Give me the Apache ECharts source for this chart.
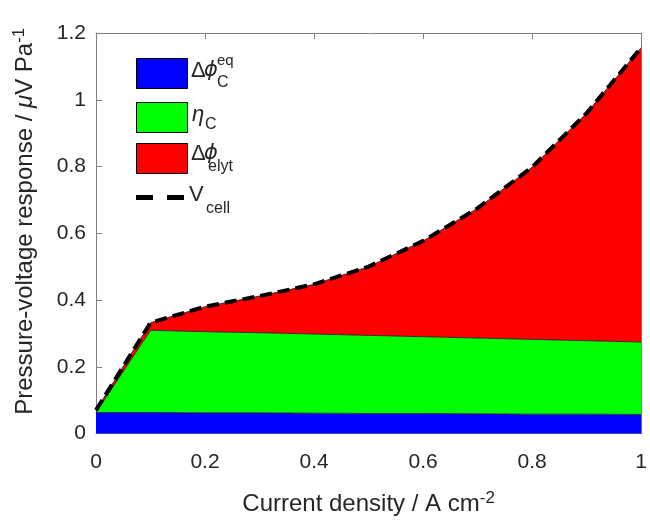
<!DOCTYPE html>
<html><head><meta charset="utf-8">
<script src="https://cdn.jsdelivr.net/npm/echarts@6/dist/echarts.min.js"></script>
<style>html,body{margin:0;padding:0;background:#fff;overflow:hidden;width:100%;height:100%}#c{width:100vw;height:100vh}</style>
</head><body><div id="c"></div>
<script>
// Current density (A cm^-2)
var xVals = [0, 0.1, 0.2, 0.3, 0.4, 0.5, 0.6, 0.7, 0.8, 0.9, 1.0];
// Δφ_C^eq band
var phiEq = [0.063, 0.063, 0.062, 0.062, 0.061, 0.060, 0.060, 0.059, 0.058, 0.058, 0.057];
// η_C band thickness
var etaC = [0.000, 0.246, 0.243, 0.240, 0.237, 0.234, 0.230, 0.227, 0.224, 0.220, 0.217];
// Δφ_elyt band thickness
var phiElyt = [0.007, 0.023, 0.075, 0.110, 0.149, 0.206, 0.287, 0.389, 0.516, 0.682, 0.882];
// V_cell total
var vCell = [0.070, 0.332, 0.380, 0.412, 0.447, 0.500, 0.577, 0.675, 0.798, 0.960, 1.156];
var xTickLabels = ['0', '', '0.2', '', '0.4', '', '0.6', '', '0.8', '', '1'];
var yTicks = [0, 0.2, 0.4, 0.6, 0.8, 1, 1.2];

var FONT = '"Liberation Sans", Arial, Helvetica, sans-serif';
var GFONT = '"DejaVu Sans", "Liberation Sans", sans-serif';
var TXT = '#262626';
var AX = '#808080';

var chart = echarts.init(document.getElementById('c'), null, {renderer:'canvas'});
function fmtY(v){ return String(Math.round(v*10)/10); }
var axisCommon = {
  axisLine:{show:true, onZero:false, lineStyle:{color:AX, width:1}},
  axisTick:{show:true, inside:true, length:6, lineStyle:{color:AX}},
  splitLine:{show:false}
};
var legendBase = {orient:'vertical', left:136, padding:0, itemWidth:51, itemHeight:30, formatter:function(){return '';},
  itemStyle:{borderColor:'#000', borderWidth:1}, textStyle:{fontSize:1}, selectedMode:false};

function legendText(x, y, parts){
  return parts.map(function(p){
    return {type:'text', left:x+(p.dx||0), top:y+(p.dy||0),
      style:{text:p.t, font:(p.it?'italic ':'')+p.s+'px '+(p.g?GFONT:FONT), fill:TXT}};
  });
}
var gfx = [].concat(
  legendText(191, 60, [{t:'Δ', s:22}, {t:'ϕ', s:21, it:true, g:true, dx:13}]),
  legendText(217, 53, [{t:'eq', s:15}]),
  legendText(217, 75, [{t:'C', s:16}]),
  legendText(192, 104, [{t:'η', s:22, it:true}]),
  legendText(205, 117, [{t:'C', s:16}]),
  legendText(191, 143, [{t:'Δ', s:22}, {t:'ϕ', s:21, it:true, g:true, dx:13}]),
  legendText(208, 159, [{t:'elyt', s:16}]),
  legendText(189, 184, [{t:'V', s:22}]),
  legendText(206, 201, [{t:'cell', s:16}])
);

chart.setOption({
  animation:false,
  backgroundColor:'#fff',
  grid:{left:96, right:4, top:33, bottom:83, containLabel:false},
  graphic: gfx,
  legend:[
    Object.assign({}, legendBase, {top:58, data:[{name:'eq', icon:'rect'}]}),
    Object.assign({}, legendBase, {top:102, data:[{name:'eta', icon:'rect'}]}),
    Object.assign({}, legendBase, {top:143, data:[{name:'elyt', icon:'rect'}]}),
    Object.assign({}, legendBase, {top:195, itemHeight:5, itemWidth:48,
      data:[{name:'vcell', icon:'path://M0,0h17v5h-17z M31,0h17v5h-17z'}],
      itemStyle:{color:'#000', borderWidth:0}})
  ],
  xAxis:[
    Object.assign({type:'category', data:xVals, boundaryGap:false, position:'bottom',
      name:'Current density / A cm{sup|-2}', nameLocation:'middle', nameGap:56,
      nameTextStyle:{fontSize:24, color:TXT, fontFamily:FONT, rich:{sup:{fontSize:17, verticalAlign:'top', padding:[0,0,12,0], color:TXT, fontFamily:FONT}}},
      axisLabel:{fontSize:21, color:TXT, fontFamily:FONT, margin:18, interval:0,
        formatter:function(v, i){ return xTickLabels[i]; }}}, axisCommon,
      {axisTick:{show:true, inside:true, length:6, interval:1, lineStyle:{color:AX}}}),
    Object.assign({type:'category', data:xVals, boundaryGap:false, position:'top', axisLabel:{show:false}}, axisCommon,
      {axisTick:{show:true, inside:true, length:6, interval:1, lineStyle:{color:AX}}})
  ],
  yAxis:[
    Object.assign({type:'value', min:yTicks[0], max:yTicks[yTicks.length-1], interval:0.2, position:'left',
      name:'Pressure-voltage response / {it|μ}V Pa{sup|-1}', nameLocation:'middle', nameGap:56,
      nameTextStyle:{fontSize:24, color:TXT, fontFamily:FONT, padding:[0,0,0,24], rich:{
        it:{fontSize:24, fontStyle:'italic', color:TXT, fontFamily:FONT},
        sup:{fontSize:17, verticalAlign:'top', padding:[0,0,12,0], color:TXT, fontFamily:FONT}}},
      axisLabel:{fontSize:21, color:TXT, fontFamily:FONT, margin:10, formatter:fmtY}}, axisCommon),
    Object.assign({type:'value', min:yTicks[0], max:yTicks[yTicks.length-1], interval:0.2, position:'right', axisLabel:{show:false}}, axisCommon)
  ],
  series:[
    {name:'eq', type:'line', stack:'s', data:phiEq, symbol:'none',
      lineStyle:{color:'#1a1a1a', width:0.8}, itemStyle:{color:'#0000ff'}, areaStyle:{color:'#0000ff', opacity:1}},
    {name:'eta', type:'line', stack:'s', data:etaC, symbol:'none',
      lineStyle:{color:'#1a1a1a', width:0.8}, itemStyle:{color:'#00ff00'}, areaStyle:{color:'#00ff00', opacity:1}},
    {name:'elyt', type:'line', stack:'s', data:phiElyt, symbol:'none',
      lineStyle:{color:'#1a1a1a', width:0.8}, itemStyle:{color:'#ff0000'}, areaStyle:{color:'#ff0000', opacity:1}},
    {name:'vcell', type:'line', data:vCell, symbol:'none', z:5,
      lineStyle:{color:'#000', width:4, type:[12,6]}, itemStyle:{color:'#000'}}
  ]
});
</script></body></html>
